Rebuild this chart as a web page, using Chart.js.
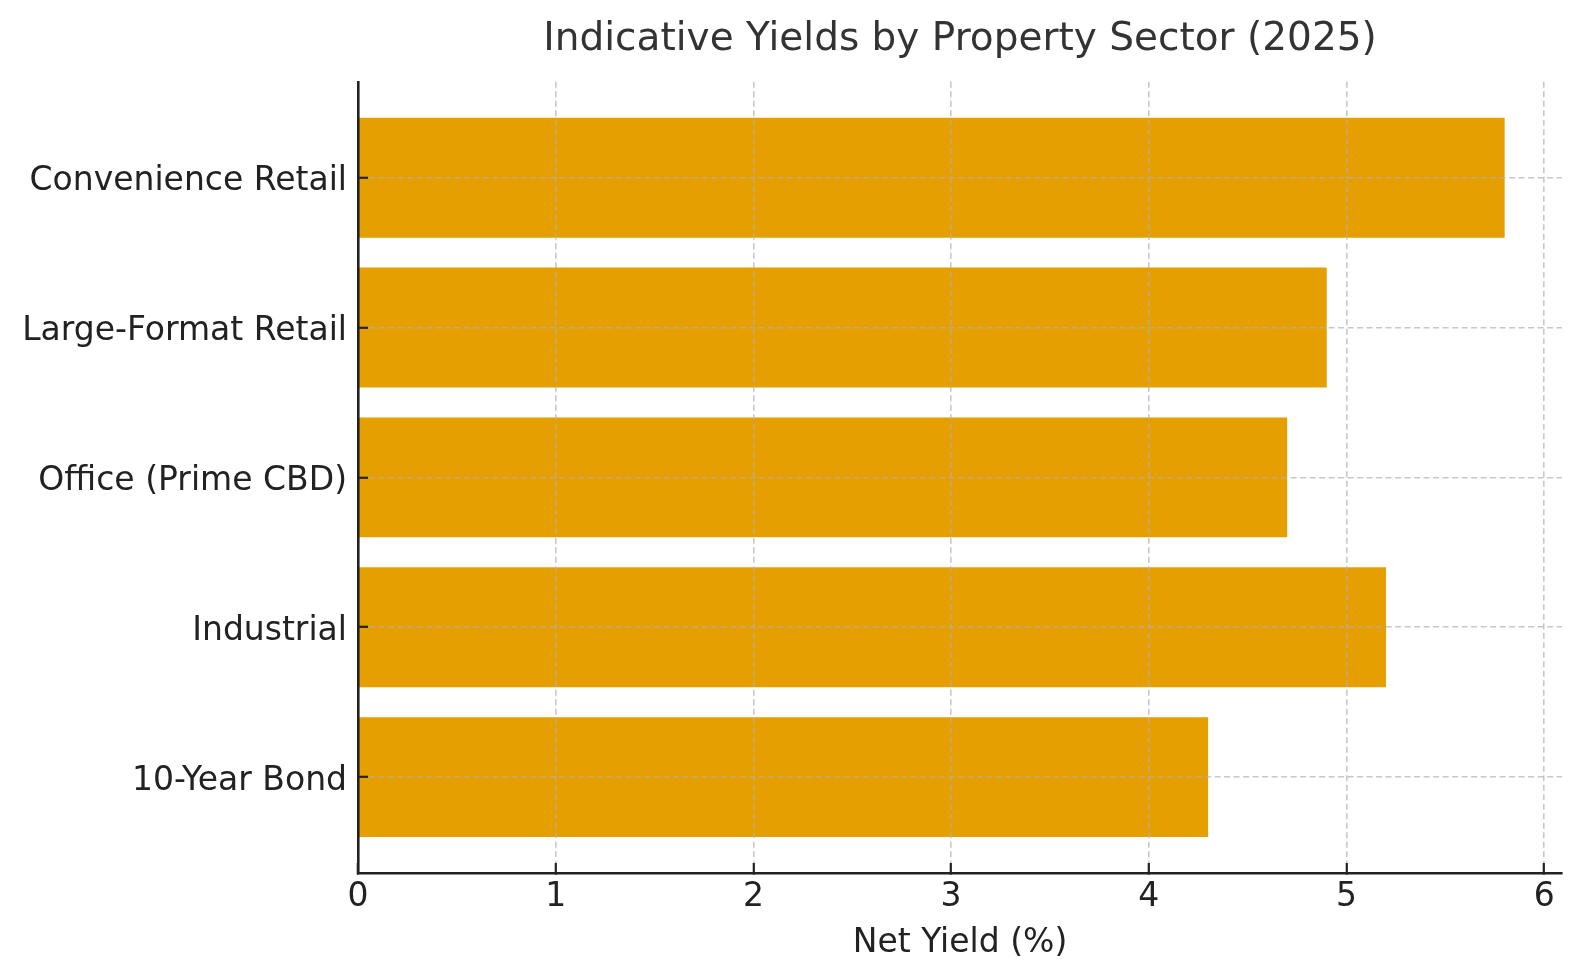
<!DOCTYPE html>
<html>
<head>
<meta charset="utf-8">
<title>Indicative Yields by Property Sector (2025)</title>
<script src="https://cdn.jsdelivr.net/npm/chart.js@4.4.1/dist/chart.umd.min.js"></script>
<style>
    html, body { margin: 0; padding: 0; background: #ffffff; }
    #wrap { width: 1580px; height: 980px; }
</style>
</head>
<body>
<div id="wrap"><canvas id="yields"></canvas></div>
<script>
// Сектора снизу вверх (индекс 0 - нижняя полоса)
const sectors = ['10-Year Bond', 'Industrial', 'Office (Prime CBD)', 'Large-Format Retail', 'Convenience Retail'];
const netYields = [4.3, 5.2, 4.7, 4.9, 5.8];
const xTicks = [0, 1, 2, 3, 4, 5, 6];

const FONT = 'DejaVu Sans';
const gridColor = 'rgba(176,176,176,0.7)';
const spineColor = '#222222';

const ctx = document.getElementById('yields');

new Chart(ctx, {
    type: 'bar',
    data: {
        datasets: [{
            label: 'Net Yield (%)',
            data: netYields.map((v, i) => ({ x: v, y: i })),
            backgroundColor: '#E69F00',
            borderWidth: 0,
            categoryPercentage: 1.0,
            barPercentage: 0.8
        }]
    },
    options: {
        indexAxis: 'y',
        responsive: true,
        maintainAspectRatio: false,
        devicePixelRatio: 1,
        animation: false,
        events: [],
        layout: {
            padding: { top: 0, right: 18, bottom: 0, left: 0 }
        },
        plugins: {
            legend: { display: false },
            tooltip: { enabled: false },
            title: {
                display: true,
                fullSize: false,
                text: 'Indicative Yields by Property Sector (2025)',
                color: '#333333',
                font: { family: FONT, size: 39, weight: 'normal' },
                padding: { top: 16, bottom: 19 }
            }
        },
        scales: {
            x: {
                type: 'linear',
                position: 'bottom',
                min: 0,
                max: 6.09,
                afterBuildTicks: scale => {
                    scale.ticks = xTicks.map(v => ({ value: v }));
                },
                afterFit: scale => { scale.height = 107; },
                grid: {
                    z: 1,
                    color: gridColor,
                    lineWidth: 1.6,
                    drawTicks: true,
                    tickLength: -10,
                    tickColor: spineColor,
                    tickWidth: 2.2,
                    tickBorderDash: []
                },
                border: { display: true, z: 2, color: spineColor, width: 2.6, dash: [6, 3.5] },
                ticks: {
                    color: '#222222',
                    font: { family: FONT, size: 33 },
                    padding: 15,
                    maxRotation: 0,
                    callback: v => String(v)
                },
                title: {
                    display: true,
                    text: 'Net Yield (%)',
                    color: '#222222',
                    font: { family: FONT, size: 33 },
                    padding: { top: 0, bottom: 17 }
                }
            },
            y: {
                type: 'linear',
                position: 'left',
                min: -0.64,
                max: 4.64,
                offset: false,
                afterBuildTicks: scale => {
                    scale.ticks = sectors.map((s, i) => ({ value: i }));
                },
                afterFit: scale => { scale.width = 358; },
                grid: {
                    z: 1,
                    offset: false,
                    color: gridColor,
                    lineWidth: 1.6,
                    drawTicks: true,
                    tickLength: -10,
                    tickColor: spineColor,
                    tickWidth: 2.2,
                    tickBorderDash: []
                },
                border: { display: true, z: 2, color: spineColor, width: 2.6, dash: [6, 3.5] },
                ticks: {
                    color: '#222222',
                    font: { family: FONT, size: 33 },
                    padding: 21,
                    labelOffset: 4,
                    callback: v => sectors[v] ?? ''
                }
            }
        }
    }
});
</script>
</body>
</html>
